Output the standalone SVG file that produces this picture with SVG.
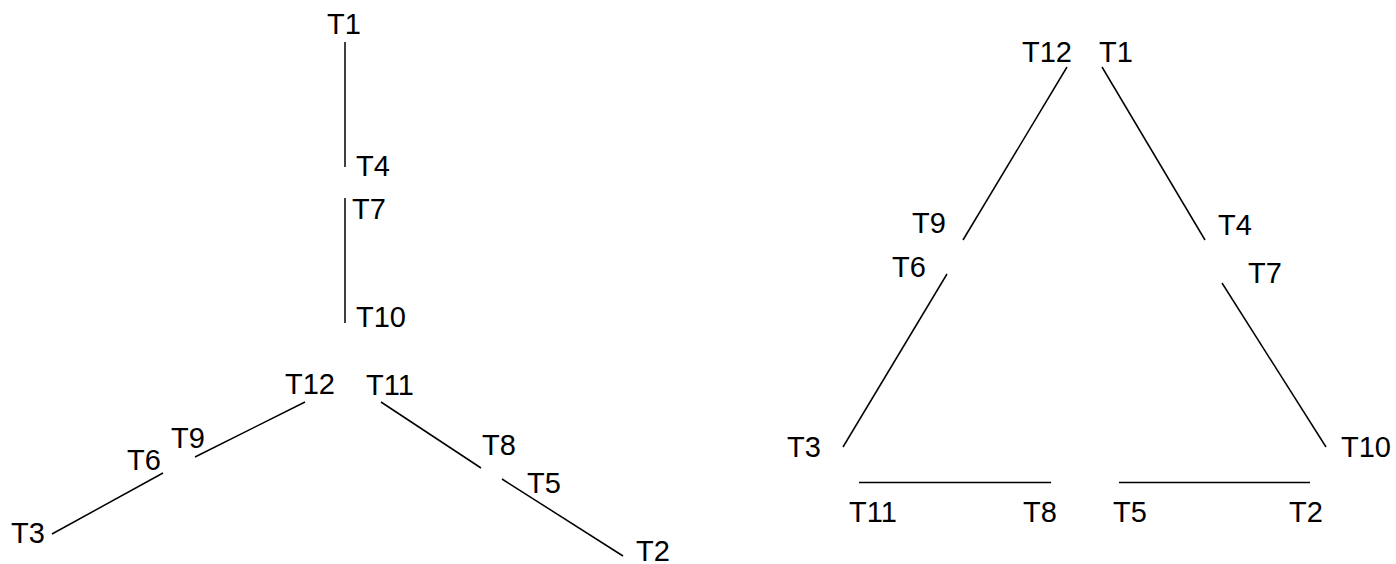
<svg xmlns="http://www.w3.org/2000/svg" width="1396" height="564" viewBox="0 0 1396 564">
<style>
  text { font-family: "Liberation Sans", Arial, sans-serif; font-size: 29px; fill: #000; }
  .e line { stroke: #000; stroke-width: 1.5; }
</style>
<rect width="1396" height="564" fill="#fff"/>
<g id="left-tree">
  <g id="L-T1"><text x="327" y="34">T1</text></g>
  <g id="L-T4"><text x="356" y="176">T4</text></g>
  <g id="L-T7"><text x="352" y="219">T7</text></g>
  <g id="L-T10"><text x="356" y="327">T10</text></g>
  <g id="L-T12"><text x="285" y="394">T12</text></g>
  <g id="L-T11"><text x="366" y="395">T11</text></g>
  <g id="L-T9"><text x="171" y="448">T9</text></g>
  <g id="L-T6"><text x="127" y="470">T6</text></g>
  <g id="L-T3"><text x="11" y="543">T3</text></g>
  <g id="L-T8"><text x="482" y="455">T8</text></g>
  <g id="L-T5"><text x="527" y="493">T5</text></g>
  <g id="L-T2"><text x="636" y="561">T2</text></g>
</g>
<g id="right-triangle">
  <g id="R-T12"><text x="1022" y="62">T12</text></g>
  <g id="R-T1"><text x="1099" y="62">T1</text></g>
  <g id="R-T9"><text x="912" y="233">T9</text></g>
  <g id="R-T4"><text x="1218" y="235">T4</text></g>
  <g id="R-T6"><text x="892" y="277">T6</text></g>
  <g id="R-T7"><text x="1248" y="283">T7</text></g>
  <g id="R-T3"><text x="787" y="457">T3</text></g>
  <g id="R-T10"><text x="1341" y="457">T10</text></g>
  <g id="R-T11"><text x="849" y="522">T11</text></g>
  <g id="R-T8"><text x="1023" y="522">T8</text></g>
  <g id="R-T5"><text x="1113" y="522">T5</text></g>
  <g id="R-T2"><text x="1289" y="522">T2</text></g>
</g>
<g id="connectors" class="e">
  <line x1="345" y1="42" x2="345" y2="167"/>
  <line x1="345" y1="198" x2="345" y2="323"/>
  <line x1="305" y1="402" x2="195" y2="457"/>
  <line x1="163" y1="473" x2="52" y2="534"/>
  <line x1="381" y1="402" x2="481" y2="468"/>
  <line x1="502" y1="479" x2="623" y2="556"/>
  <line x1="1067" y1="67" x2="963" y2="240"/>
  <line x1="1102" y1="67" x2="1205" y2="240"/>
  <line x1="947" y1="274" x2="843" y2="447"/>
  <line x1="1222" y1="283" x2="1326" y2="447"/>
  <line x1="859" y1="482.5" x2="1051" y2="482.5"/>
  <line x1="1119" y1="482.5" x2="1310" y2="482.5"/>
</g>
</svg>
